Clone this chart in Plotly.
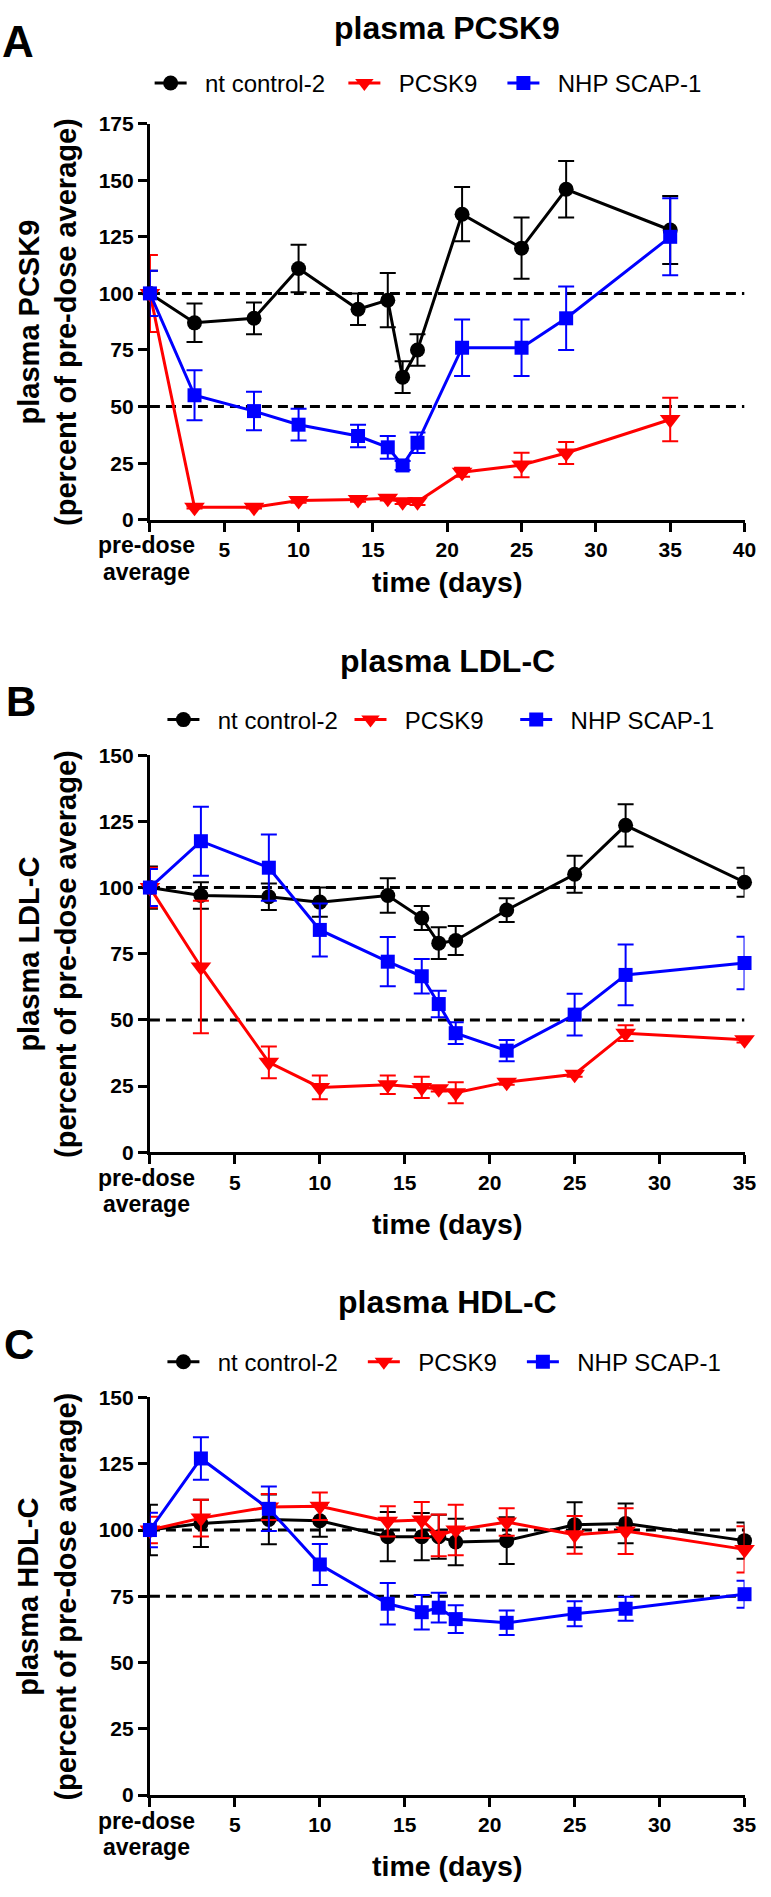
import plotly.graph_objects as go

# ---------------- data ----------------
days = [0, 3, 7, 10, 14, 16, 17, 18, 21, 25, 28, 35]
series_names = ["nt control-2", "PCSK9", "NHP SCAP-1"]
series_colors = ["#000000", "#FF0000", "#0000FF"]
series_symbols = ["circle", "triangle-down", "square"]

# Panel A: plasma PCSK9
a_ctrl = [100, 87, 89, 111, 93, 97, 63, 75, 135, 120, 146, 128]
a_ctrl_err = [10, 8.5, 7, 10.5, 7, 12, 7, 7, 12, 13.5, 12.5, 15]
a_pcsk9 = [100, 5.5, 5.5, 8.5, 9, 9.5, 8, 8, 21, 24.2, 29.5, 44.3]
a_pcsk9_err = [17, 0.5, 0.5, 1, 1, 1, 1, 1.5, 2, 5.4, 4.9, 9.6]
a_scap = [100, 55, 48, 42, 37, 32, 24, 34, 76, 76, 89, 125]
a_scap_err = [10, 11, 8.5, 7, 5, 5, 2, 4.5, 12.5, 12.5, 14, 17]
a_ref = [100, 50]
a_yticks = [0, 25, 50, 75, 100, 125, 150, 175]
a_xticks = [0, 5, 10, 15, 20, 25, 30, 35, 40]

# Panel B: plasma LDL-C
b_ctrl = [100, 97, 96.5, 94.5, 97, 88.5, 79, 80, 91.5, 105, 123.5, 102]
b_ctrl_err = [8, 5, 5, 5.5, 6.5, 4.5, 6, 5.5, 4.5, 7, 8, 5.5]
b_pcsk9 = [100, 70, 34, 24.5, 25.5, 24.5, 24, 22.5, 26.5, 29.5, 45, 42.5]
b_pcsk9_err = [7.5, 25, 6, 4.5, 3.5, 4, 1, 4, 1, 1, 3, 1]
b_scap = [100, 117.5, 107.5, 84, 72, 66.5, 56, 45, 38.4, 52, 67, 71.5]
b_scap_err = [7, 13, 12.5, 10, 9.3, 6.5, 5, 4.1, 4, 7.9, 11.5, 9.9]
b_ref = [100, 50]
b_yticks = [0, 25, 50, 75, 100, 125, 150]
b_xticks = [0, 5, 10, 15, 20, 25, 30, 35]

# Panel C: plasma HDL-C
c_ctrl = [100, 102.5, 104, 103.5, 97.5, 97.5, 97.5, 95.5, 96, 102, 102.5, 96]
c_ctrl_err = [9.5, 8.9, 9.4, 6, 9.3, 8.9, 8.3, 8.8, 8.8, 8.5, 7.5, 6.8]
c_pcsk9 = [100, 104.5, 108.7, 109, 103.3, 103.8, 98, 100, 103, 98.2, 99.6, 92.7]
c_pcsk9_err = [5, 6.9, 4.9, 5.2, 5.7, 6.8, 7.9, 9.5, 5.2, 7.1, 8.6, 8.7]
c_scap = [100, 127, 108, 87, 72.2, 69, 70.7, 66.4, 65, 68.4, 70.3, 75.8]
c_scap_err = [6.5, 8, 8.4, 7.7, 7.8, 6.5, 5.6, 5.2, 4.6, 4.7, 4.5, 5.1]
c_ref = [100, 75]
c_yticks = [0, 25, 50, 75, 100, 125, 150]
c_xticks = [0, 5, 10, 15, 20, 25, 30, 35]

titles = ["plasma PCSK9", "plasma LDL-C", "plasma HDL-C"]
letters = ["A", "B", "C"]
ytitles = ["plasma PCSK9", "plasma LDL-C", "plasma HDL-C"]
ysub = "(percent of pre-dose average)"
xtitle = "time (days)"
predose_lines = ["pre-dose", "average"]

# ---------------- layout helpers ----------------
W, H = 771, 1897
FONT = "Liberation Sans, Arial, Helvetica, sans-serif"
NB = "\u00a0"


def px(x):
    return x / W


def py(y):
    return 1 - y / H


X0, X1 = 152.3, 756.3
panels = [
    dict(top=113.0, bot=514.0, values=(a_ctrl, a_pcsk9, a_scap),
         errs=(a_ctrl_err, a_pcsk9_err, a_scap_err), ref=a_ref,
         yticks=a_yticks, xticks=a_xticks, title_y=16, letter=(18, 30, 44),
         legend_y=72.3, legend_x=152, pads=(2, 3, 0), xt_off=63),
    dict(top=752.3, bot=1154.3, values=(b_ctrl, b_pcsk9, b_scap),
         errs=(b_ctrl_err, b_pcsk9_err, b_scap_err), ref=b_ref,
         yticks=b_yticks, xticks=b_xticks, title_y=657, letter=(21, 698, 42),
         legend_y=716.7, legend_x=165, pads=(1, 4, 0), xt_off=73),
    dict(top=1402.5, bot=1805.0, values=(c_ctrl, c_pcsk9, c_scap),
         errs=(c_ctrl_err, c_pcsk9_err, c_scap_err), ref=c_ref,
         yticks=c_yticks, xticks=c_xticks, title_y=1306, letter=(19.5, 1349, 42),
         legend_y=1366.7, legend_x=165, pads=(3, 3, 0), xt_off=72),
]

fig = go.Figure()
annotations = []
layout = dict(
    width=W, height=H, autosize=False,
    margin=dict(l=0, r=0, t=0, b=0),
    paper_bgcolor="white", plot_bgcolor="white",
    showlegend=True,
    font=dict(family=FONT, color="black"),
)

marker_sizes = [15, 18, 14]

for i, p in enumerate(panels):
    sfx = "" if i == 0 else str(i + 1)
    xa, ya = "x" + sfx, "y" + sfx
    legname = "legend" + sfx
    xmin, xmax = p["xticks"][0], p["xticks"][-1]
    ymin, ymax = p["yticks"][0], p["yticks"][-1]

    # dashed reference lines
    for r in p["ref"]:
        fig.add_trace(go.Scatter(
            x=[xmin, xmax], y=[r, r], mode="lines", xaxis=xa, yaxis=ya,
            line=dict(color="black", width=3, dash="10px,6px"),
            showlegend=False, hoverinfo="skip"))

    for k in range(3):
        nm = NB * 2 + series_names[k] + NB * p["pads"][k]
        fig.add_trace(go.Scatter(
            x=days, y=p["values"][k], mode="lines+markers",
            name=nm, xaxis=xa, yaxis=ya, legend=legname,
            cliponaxis=False,
            line=dict(color=series_colors[k], width=3),
            marker=dict(symbol=series_symbols[k], size=marker_sizes[k],
                        color=series_colors[k], line=dict(width=0)),
            error_y=dict(type="data", array=p["errs"][k], visible=True,
                         color=series_colors[k], thickness=2, width=8),
        ))

    dom_y = [py(p["bot"]), py(p["top"])]
    layout["xaxis" + sfx] = dict(
        domain=[px(X0), px(X1)], anchor=ya, range=[xmin, xmax],
        tickmode="array", tickvals=p["xticks"],
        ticktext=[""] + [str(t) for t in p["xticks"][1:]],
        ticks="outside", ticklen=9, tickwidth=3, tickcolor="black",
        showline=True, linewidth=3, linecolor="black",
        showgrid=False, zeroline=False, layer="below traces",
        tickfont=dict(family=FONT, size=21, color="black", weight="bold"),
    )
    layout["yaxis" + sfx] = dict(
        domain=dom_y, anchor=xa, range=[ymin, ymax],
        tickmode="array", tickvals=p["yticks"],
        ticks="outside", ticklen=9, tickwidth=3, tickcolor="black",
        showline=True, linewidth=3, linecolor="black",
        showgrid=False, zeroline=False, layer="below traces",
        tickfont=dict(family=FONT, size=21, color="black", weight="bold"),
    )
    layout[legname] = dict(
        orientation="h", x=px(p["legend_x"]), xanchor="left",
        y=py(p["legend_y"]), yanchor="middle",
        font=dict(family=FONT, size=24, color="black"),
        bgcolor="rgba(0,0,0,0)", borderwidth=0, itemwidth=32,
        tracegroupgap=0,
    )

    cx = (X0 + X1) / 2
    cy = (p["top"] + p["bot"]) / 2
    annotations += [
        dict(text=titles[i], x=px(cx), y=py(p["title_y"]), xref="paper",
             yref="paper", xanchor="center", yanchor="middle", showarrow=False,
             font=dict(family=FONT, size=32, color="black", weight="bold")),
        dict(text=letters[i], x=px(p["letter"][0]), y=py(p["letter"][1]),
             xref="paper", yref="paper", xanchor="center", yanchor="middle",
             showarrow=False,
             font=dict(family=FONT, size=p["letter"][2], color="black",
                       weight="bold")),
        dict(text=ytitles[i] + "<br>" + ysub, x=px(48), y=py(cy),
             xref="paper", yref="paper", xanchor="center", yanchor="middle",
             textangle=-90, showarrow=False,
             font=dict(family=FONT, size=29, color="black", weight="bold")),
        dict(text=predose_lines[0], x=px(X0 - 3), y=py(p["bot"] + 26),
             xref="paper", yref="paper", xanchor="center", yanchor="middle",
             showarrow=False,
             font=dict(family=FONT, size=23, color="black", weight="bold")),
        dict(text=predose_lines[1], x=px(X0 - 3), y=py(p["bot"] + 52.5),
             xref="paper", yref="paper", xanchor="center", yanchor="middle",
             showarrow=False,
             font=dict(family=FONT, size=23, color="black", weight="bold")),
        dict(text=xtitle, x=px(cx), y=py(p["bot"] + p["xt_off"]),
             xref="paper", yref="paper", xanchor="center", yanchor="middle",
             showarrow=False,
             font=dict(family=FONT, size=28.5, color="black", weight="bold")),
    ]

layout["annotations"] = annotations
fig.update_layout(**layout)
fig.write_html("out.html",
               config={"displayModeBar": False},
               post_script="document.body.style.margin='0px';")
